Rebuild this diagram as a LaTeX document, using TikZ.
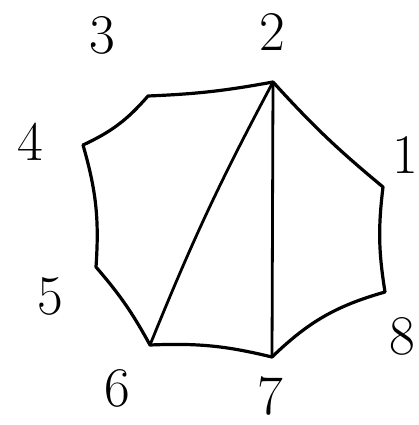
\documentclass[tikz,border=0pt]{standalone}
\usepackage{tikz}

\begin{document}
\begin{tikzpicture}[x=1pt,y=-1pt,
  edge/.style={line width=3.2pt, line cap=round, line join=round},
  chord/.style={line width=2.8pt, line cap=round},
  num/.style={inner sep=0pt, font=\fontsize{56}{56}\selectfont}]
\useasboundingbox (0,0) rectangle (419,425);
% corners of the octagon
\coordinate (v1) at (383,187);
\coordinate (v2) at (273,82);
\coordinate (v3) at (148,96);
\coordinate (v4) at (83,145);
\coordinate (v5) at (96,267);
\coordinate (v6) at (150,345);
\coordinate (v7) at (272,357);
\coordinate (v8) at (385,292);
% corner numbers
\node[num] (l1) at (405,155) {1};
\node[num] (l2) at (272,32) {2};
\node[num] (l3) at (102,35) {3};
\node[num] (l4) at (30,142) {4};
\node[num] (l5) at (50,296) {5};
\node[num] (l6) at (117,388) {6};
\node[num] (l7) at (270,396) {7};
\node[num] (l8) at (402,336) {8};
% sides
\draw[edge] (v2) to[bend left=4] (v3) to[bend left=12] (v4)
  to[bend left=10] (v5) to[bend left=6] (v6) to[bend left=8] (v7)
  to[bend left=14] (v8) to[bend left=8] (v1) to[bend left=4] (v2);
% diagonals
\draw[chord] (v6) to[bend left=3] (v2);
\draw[chord] (v2) -- (v7);
\end{tikzpicture}
\end{document}
